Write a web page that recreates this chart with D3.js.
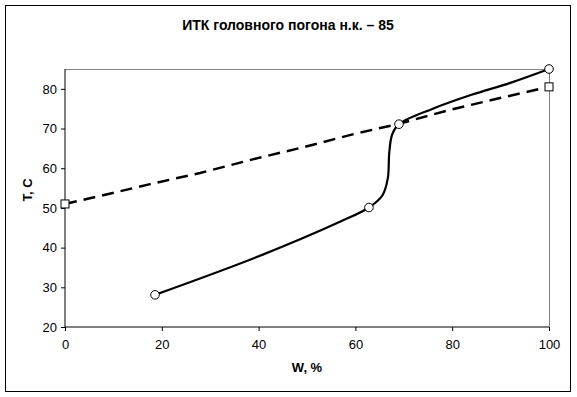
<!DOCTYPE html>
<html><head><meta charset="utf-8">
<script src="https://cdn.jsdelivr.net/npm/d3@7/dist/d3.min.js"></script>
<style>body{margin:0;background:#fff}svg{display:block}text{font-family:"Liberation Sans",Arial,sans-serif}</style>
</head><body><svg id="c" width="577" height="397"></svg>
<script>
const title = "ИТК головного погона н.к. – 85";
const xLabel = "W, %";
const yLabel = "T, C";
const xTicks = [0, 20, 40, 60, 80, 100];
const yTicks = [20, 30, 40, 50, 60, 70, 80];
// solid curve (ITK)
const itkW = [18.6, 40, 56.8, 62.8, 65.6, 66.7, 67.0, 67.6, 69.0, 76.0, 84.0, 92.0, 100];
const itkT = [28.1, 37.8, 46.5, 50.1, 53.2, 57.5, 64.0, 68.5, 71.1, 75.0, 78.5, 81.5, 85];
const itkMarkW = [18.6, 62.8, 69.0, 100];
const itkMarkT = [28.1, 50.1, 71.1, 85];
// dashed line
const lineW = [0, 7.2, 17.6, 27.9, 40, 48.6, 60, 69, 79.5, 89.9, 100];
const lineT = [51.0, 53.0, 56.0, 58.8, 62.6, 65.1, 68.7, 71.2, 74.7, 77.7, 80.5];
const lineMarkW = [0, 100];
const lineMarkT = [51.0, 80.5];

const svg = d3.select("#c");
svg.append("rect").attr("x",5.5).attr("y",5.5).attr("width",565).attr("height",386)
  .attr("fill","#fff").attr("stroke","#000").attr("stroke-width",1);
const L=65, R=549, T=69, B=327;
const x = d3.scaleLinear().domain([0,100]).range([L,R]);
const y = d3.scaleLinear().domain([20,85]).range([B,T]);

svg.append("text").attr("x",288).attr("y",30).attr("text-anchor","middle")
  .attr("font-size",14).attr("font-weight","bold").text(title);

svg.append("path").attr("d",`M${L},${T+0.5}H${R+0.5}V${B}`).attr("fill","none").attr("stroke","#808080");

const xa = svg.append("g").attr("transform",`translate(0,${B})`)
  .call(d3.axisBottom(x).tickValues(xTicks).tickSize(4).tickPadding(9));
const ya = svg.append("g").attr("transform",`translate(${L},0)`)
  .call(d3.axisLeft(y).tickValues(yTicks).tickSize(4).tickPadding(4));
[xa,ya].forEach(a=>{a.select(".domain").attr("stroke","#000");
  a.selectAll("text").attr("font-size",13).attr("fill","#000").style("font-family","'Liberation Sans',Arial,sans-serif");});
ya.select(".domain").attr("d",`M0,${T}V${B}`);
xa.select(".domain").attr("d",`M${L},0H${R}`);

svg.append("text").attr("x",307).attr("y",372).attr("text-anchor","middle")
  .attr("font-size",13).attr("font-weight","bold").text(xLabel);
svg.append("text").attr("transform","translate(32,190) rotate(-90)").attr("text-anchor","middle")
  .attr("font-size",13).attr("font-weight","bold").text(yLabel);

const lineGen = d3.line().x(d=>x(d[0])).y(d=>y(d[1]));
const dashed = lineW.map((w,i)=>[w,lineT[i]]);
svg.append("path").attr("d",lineGen(dashed)).attr("fill","none").attr("stroke","#000")
  .attr("stroke-width",2.5).attr("stroke-dasharray","12,7");
const itk = itkW.map((w,i)=>[w,itkT[i]]);
svg.append("path").attr("d",lineGen.curve(d3.curveCatmullRom.alpha(0.5))(itk)).attr("fill","none")
  .attr("stroke","#000").attr("stroke-width",2.2);

svg.selectAll(".sq").data(lineMarkW.map((w,i)=>[w,lineMarkT[i]])).join("rect")
  .attr("x",d=>x(d[0])-4).attr("y",d=>y(d[1])-4).attr("width",8).attr("height",8)
  .attr("fill","#fff").attr("stroke","#000").attr("stroke-width",1);
svg.selectAll(".ci").data(itkMarkW.map((w,i)=>[w,itkMarkT[i]])).join("circle")
  .attr("cx",d=>x(d[0])).attr("cy",d=>y(d[1])).attr("r",4.3)
  .attr("fill","#fff").attr("stroke","#000").attr("stroke-width",1);
</script></body></html>
